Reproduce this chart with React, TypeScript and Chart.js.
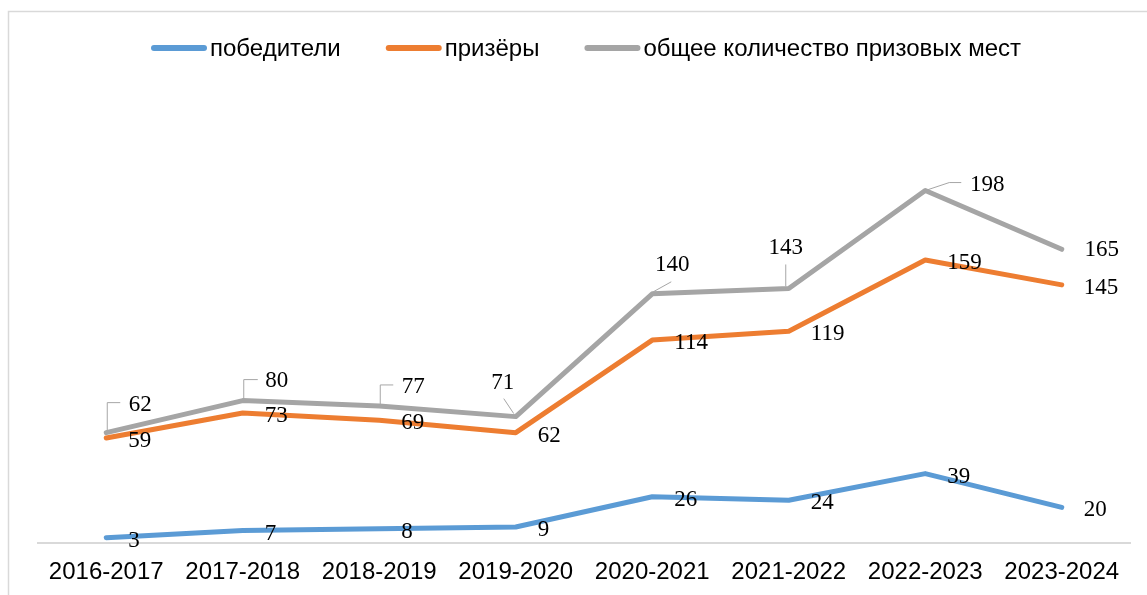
import React, { useEffect, useRef } from 'react';
import { Chart, registerables } from 'chart.js';

Chart.register(...registerables);

// ---- data ----
const categories = ['2016-2017', '2017-2018', '2018-2019', '2019-2020', '2020-2021', '2021-2022', '2022-2023', '2023-2024'];
const winners = [3, 7, 8, 9, 26, 24, 39, 20];
const prizeWinners = [59, 73, 69, 62, 114, 119, 159, 145];
const totalPlaces = [62, 80, 77, 71, 140, 143, 198, 165];
const seriesNames = ['победители', 'призёры', 'общее количество призовых мест'];

// ---- styles ----
const COLORS = ['#5B9BD5', '#ED7D31', '#A5A5A5'];
const LABEL_FONT = '23px "Liberation Serif", "Times New Roman", serif';
const AXIS_FONT_FAMILY = '"Liberation Sans", Arial, sans-serif';

// label center offsets for the "total" series (relative to point), with leader lines
const totalLabelOffsets: [number, number][] = [[34, -28], [34, -20], [34, -19], [-13, -34], [20, -29], [-3, -41], [62, -6], [40, 1]];
const totalLeaders: [number, number][][] = [
  [[1, -2], [1, -30], [14, -30]],
  [[1, -2], [1, -21], [15, -21]],
  [[1, -1], [1, -21], [14, -21]],
  [[-2, -3], [-12, -18]],
  [[1, -2], [19, -12]],
  [[-3, -2], [-3, -24]],
  [[0, 0], [24, -8], [36, -8]],
  [],
];

const framePlugin = {
  id: 'frame',
  beforeDraw(chart: any) {
    const ctx = chart.ctx;
    ctx.save();
    ctx.fillStyle = '#ffffff';
    ctx.fillRect(0, 0, chart.width, chart.height);
    ctx.strokeStyle = '#d9d9d9';
    ctx.lineWidth = 1.5;
    ctx.beginPath();
    ctx.moveTo(8.5, chart.height + 5);
    ctx.lineTo(8.5, 11.5);
    ctx.lineTo(chart.width + 5, 11.5);
    ctx.stroke();
    ctx.restore();
  },
};

const legendPlugin = {
  id: 'customLegend',
  afterDraw(chart: any) {
    const ctx = chart.ctx;
    ctx.save();
    ctx.font = '24px ' + AXIS_FONT_FAMILY;
    ctx.textBaseline = 'middle';
    ctx.textAlign = 'left';
    let x = 151;
    const y = 48;
    chart.data.datasets.forEach((ds: any) => {
      ctx.strokeStyle = ds.borderColor;
      ctx.lineWidth = 6;
      ctx.lineCap = 'round';
      ctx.beginPath();
      ctx.moveTo(x + 3, y);
      ctx.lineTo(x + 53, y);
      ctx.stroke();
      ctx.fillStyle = '#000000';
      const tx = x + 59;
      ctx.fillText(ds.label, tx, y + 1);
      x = tx + ctx.measureText(ds.label).width + 45;
    });
    ctx.restore();
  },
};

const labelsPlugin = {
  id: 'pointLabels',
  afterDatasetsDraw(chart: any) {
    const ctx = chart.ctx;
    ctx.save();
    ctx.font = LABEL_FONT;
    ctx.fillStyle = '#000000';
    ctx.textBaseline = 'middle';
    chart.data.datasets.forEach((ds: any, di: number) => {
      const meta = chart.getDatasetMeta(di);
      meta.data.forEach((pt: any, i: number) => {
        const v = String(ds.data[i]);
        if (di === 2) {
          const leader = totalLeaders[i];
          if (leader.length) {
            ctx.strokeStyle = '#a6a6a6';
            ctx.lineWidth = 1;
            ctx.beginPath();
            leader.forEach(([dx, dy], k) => {
              if (k === 0) ctx.moveTo(pt.x + dx, pt.y + dy);
              else ctx.lineTo(pt.x + dx, pt.y + dy);
            });
            ctx.stroke();
          }
          const [ox, oy] = totalLabelOffsets[i];
          ctx.textAlign = 'center';
          ctx.fillText(v, pt.x + ox, pt.y + oy);
        } else {
          ctx.textAlign = 'left';
          ctx.fillText(v, pt.x + 22, pt.y + 3);
        }
      });
    });
    ctx.restore();
  },
};

export default function App() {
  const ref = useRef<HTMLCanvasElement>(null);
  useEffect(() => {
    document.body.style.margin = '0';
    const series = [winners, prizeWinners, totalPlaces];
    const chart = new Chart(ref.current as HTMLCanvasElement, {
      type: 'line',
      data: {
        labels: categories,
        datasets: series.map((d, i) => ({
          label: seriesNames[i],
          data: d,
          borderColor: COLORS[i],
          backgroundColor: COLORS[i],
          borderWidth: 5,
          pointRadius: 0,
          pointHoverRadius: 0,
          tension: 0,
          borderCapStyle: 'round' as const,
          borderJoinStyle: 'round' as const,
          fill: false,
        })),
      },
      options: {
        animation: false,
        responsive: true,
        maintainAspectRatio: false,
        layout: { padding: { left: 38, right: 17, top: 98, bottom: 0 } },
        plugins: {
          legend: { display: false },
          tooltip: { enabled: false },
        },
        scales: {
          x: {
            offset: true,
            grid: { display: false, drawTicks: false },
            border: { display: true, color: '#d9d9d9', width: 2 },
            ticks: {
              color: '#000000',
              padding: 15,
              maxRotation: 0,
              autoSkip: false,
              font: { family: AXIS_FONT_FAMILY, size: 24 },
            },
            afterFit: (scale: any) => {
              scale.height = 52;
            },
          },
          y: {
            display: false,
            min: 0,
            max: 250,
          },
        },
      },
      plugins: [framePlugin, legendPlugin, labelsPlugin],
    });
    return () => chart.destroy();
  }, []);
  return (
    <div style={{ position: 'relative', width: 1147, height: 595 }}>
      <canvas ref={ref} />
    </div>
  );
}
